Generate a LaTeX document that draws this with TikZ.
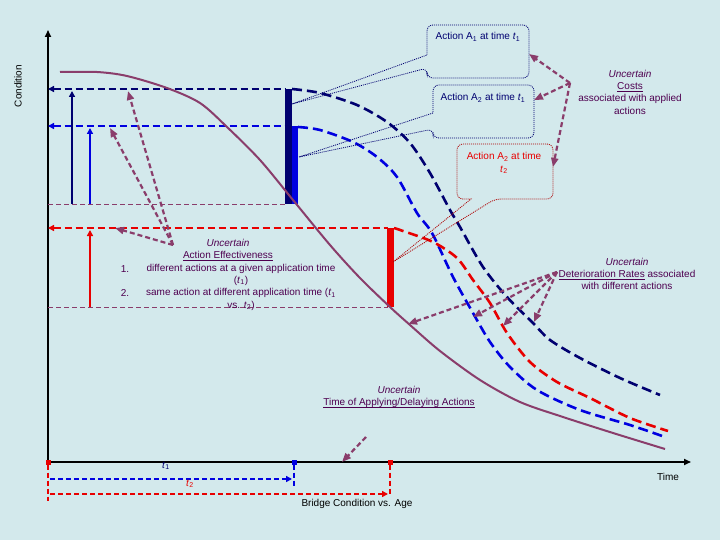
\documentclass[tikz,border=0pt]{standalone}
\usepackage{fontspec}
\setmainfont{Liberation Sans}
\usetikzlibrary{arrows.meta}
\definecolor{bgcolor}{HTML}{D3E9EC}
\definecolor{agepurple}{HTML}{8A3D6B}
\definecolor{textpurple}{HTML}{4E0050}
\definecolor{actnavy}{HTML}{000070}
\definecolor{actblue}{HTML}{0000E0}
\definecolor{actred}{HTML}{E80000}
\newsavebox\ulbox
\newcommand{\uncline}[1]{\sbox\ulbox{#1}\rlap{\rule[-2.4pt]{\wd\ulbox}{1.2pt}}\usebox\ulbox}
\newcommand{\tsub}[1]{\textit{t}\textsubscript{#1}}

\begin{document}
\begin{tikzpicture}[x=1pt, y=-1pt, >={Triangle[length=6pt,width=6pt]},
    every node/.style={inner sep=0pt, font=\fontsize{10}{12.3}\selectfont},
    axis/.style={draw=black, line width=1.6pt, -{Triangle[length=7pt,width=6pt]}},
    base/.style={draw=agepurple, line width=2pt},
    level/.style={line width=2.4pt, dash pattern=on 7pt off 4pt, <-},
    after/.style={line width=2.6pt, dash pattern=on 10pt off 5pt},
    guide/.style={draw=agepurple, line width=0.8pt, dash pattern=on 5pt off 3pt},
    note/.style={draw=agepurple, line width=2.2pt, dash pattern=on 5pt off 3pt,
      -{Triangle[length=9pt,width=7pt]}},
    callout/.style={line width=0.8pt, dash pattern=on 1pt off 1pt},
    marker/.style={rectangle, minimum size=5pt},
    uncertain/.style={text=textpurple, align=center}]
  \useasboundingbox[fill=bgcolor] (0,0) rectangle (720,540);

  % axes
  \coordinate (O) at (48,462);
  \coordinate (ytop) at (48,30);
  \coordinate (xend) at (691,462);
  \draw[axis] (O) -- (ytop);
  \draw[axis] (O) -- (xend);
  \node[rotate=90] (cond) at (18,86) {Condition};
  \node (time) at (668,477) {Time};
  \node (title) at (357,504) {Bridge Condition vs. Age};

  % condition levels
  \coordinate (la) at (48,89);
  \coordinate (lb) at (48,126);
  \coordinate (lc) at (48,228);
  \coordinate (ld) at (48,204);
  \coordinate (le) at (48,307);
  \draw[guide] (ld) -- (286,204);
  \draw[guide] (le) -- (388,307);
  \draw[level, draw=actnavy] (la) -- (286,89);
  \draw[level, draw=actblue] (lb) -- (292,126);
  \draw[level, draw=actred] (lc) -- (388,228);
  \draw[->, draw=actnavy, line width=2pt] (72,204) -- (72,91);
  \draw[->, draw=actblue, line width=2pt] (90,204) -- (90,128);
  \draw[->, draw=actred, line width=2pt] (90,307) -- (90,230);

  % jumps
  \fill[actnavy] (285,89) rectangle (292,204);
  \fill[actblue] (292,126) rectangle (298,204);
  \fill[actred] (387,228) rectangle (394,307);

  % curves
  \draw[base] plot[smooth] coordinates {(60,72) (97,72) (127,76) (167,88) (200,103)
    (227,127) (260,160) (293,200) (330,245) (360,278) (390,307) (410,325) (440,351)
    (480,380) (520,402) (563,417) (613,433) (665,449)};
  \draw[after, draw=actnavy] plot[smooth] coordinates {(292,89) (320,93) (357,105)
    (387,122) (410,143) (430,173) (450,210) (460,227) (483,267) (507,297) (533,323)
    (550,340) (580,358) (620,378) (660,395)};
  \draw[after, draw=actblue] plot[smooth] coordinates {(298,127) (320,130) (353,142)
    (377,157) (397,177) (417,213) (432,233) (453,277) (473,313) (490,342) (510,367)
    (537,390) (580,410) (630,425) (665,437)};
  \draw[after, draw=actred] plot[smooth] coordinates {(394,228) (403,231) (433,242)
    (457,258) (473,280) (490,303) (507,333) (530,362) (557,382) (590,398) (630,418)
    (668,431)};

  % callouts
  \draw[callout, draw=actnavy] (292,104) -- (427,55) [rounded corners=6pt] -- (427,25)
    -- (529,25) -- (529,78) -- (427,78) -- (427,68) [sharp corners] -- cycle;
  \node[text=actnavy] (a1) at (478,37) {Action A\textsubscript{1} at time \tsub{1}};
  \draw[callout, draw=actnavy] (299,157) -- (433,113) [rounded corners=6pt] -- (433,85)
    -- (534,85) -- (534,138) -- (433,138) -- (433,129) [sharp corners] -- cycle;
  \node[text=actnavy] (a2) at (483,98) {Action A\textsubscript{2} at time \tsub{1}};
  \draw[callout, draw=actred!75!black] (393,262) -- (471,199) [rounded corners=6pt]
    -- (457,199) -- (457,144) -- (553,144) -- (553,199) -- (495,199) [sharp corners] -- cycle;
  \node[text=actred, align=center] (a3) at (504,163) {Action A\textsubscript{2} at time\\ \tsub{2}};

  % uncertainties
  \node[uncertain] (costs) at (630,92) {\textit{Uncertain}\\ \uncline{Costs}\\
    associated with applied\\ actions};
  \coordinate (costpt) at (570,83);
  \draw[note] (costpt) -- (529,54);
  \draw[note] (costpt) -- (534,100);
  \draw[note] (costpt) -- (553,167);

  \node[uncertain] (rates) at (627,274) {\textit{Uncertain}\\ \uncline{Deterioration Rates}
    associated\\ with different actions};
  \coordinate (ratept) at (557,272);
  \draw[note] (ratept) -- (408,324);
  \draw[note] (ratept) -- (473,317);
  \draw[note] (ratept) -- (503,326);
  \draw[note] (ratept) -- (534,322);

  \node[uncertain] (eff) at (228,250) {\textit{Uncertain}\\ \uncline{Action Effectiveness}};
  \node[uncertain] (effitems) at (241,287) {different actions at a given application time\\
    (\tsub{1})\\ same action at different application time (\tsub{1}\\ vs. \tsub{2})};
  \node[text=textpurple] (n1) at (125,269) {1.};
  \node[text=textpurple] (n2) at (125,293) {2.};
  \coordinate (effpt) at (173,245);
  \draw[note] (effpt) -- (128,91);
  \draw[note] (effpt) -- (110,128);
  \draw[note] (effpt) -- (115,228);

  \node[uncertain] (delay) at (399,397) {\textit{Uncertain}\\ \uncline{Time of Applying/Delaying Actions}};
  \coordinate (delaypt) at (366,437);
  \draw[note] (delaypt) -- (342,462);

  % application times
  \node[marker, fill=actred] (m0) at (48,462) {};
  \node[marker, fill=actblue] (m1) at (294,462) {};
  \node[marker, fill=actred] (m2) at (390,462) {};
  \draw[after, draw=actblue, line width=2pt, dash pattern=on 5pt off 3pt] (m1) -- (294,488);
  \draw[after, draw=actred, line width=2pt, dash pattern=on 5pt off 3pt] (m0) -- (48,501);
  \draw[after, draw=actred, line width=2pt, dash pattern=on 5pt off 3pt] (m2) -- (390,494);
  \draw[->, draw=actblue, line width=2pt, dash pattern=on 5pt off 3pt] (50,479) -- (292,479);
  \draw[->, draw=actred, line width=2pt, dash pattern=on 5pt off 3pt] (50,494) -- (388,494);
  \node[text=actnavy] (t1) at (166,466) {\tsub{1}};
  \node[text=actred] (t2) at (190,484) {\tsub{2}};
\end{tikzpicture}
\end{document}
